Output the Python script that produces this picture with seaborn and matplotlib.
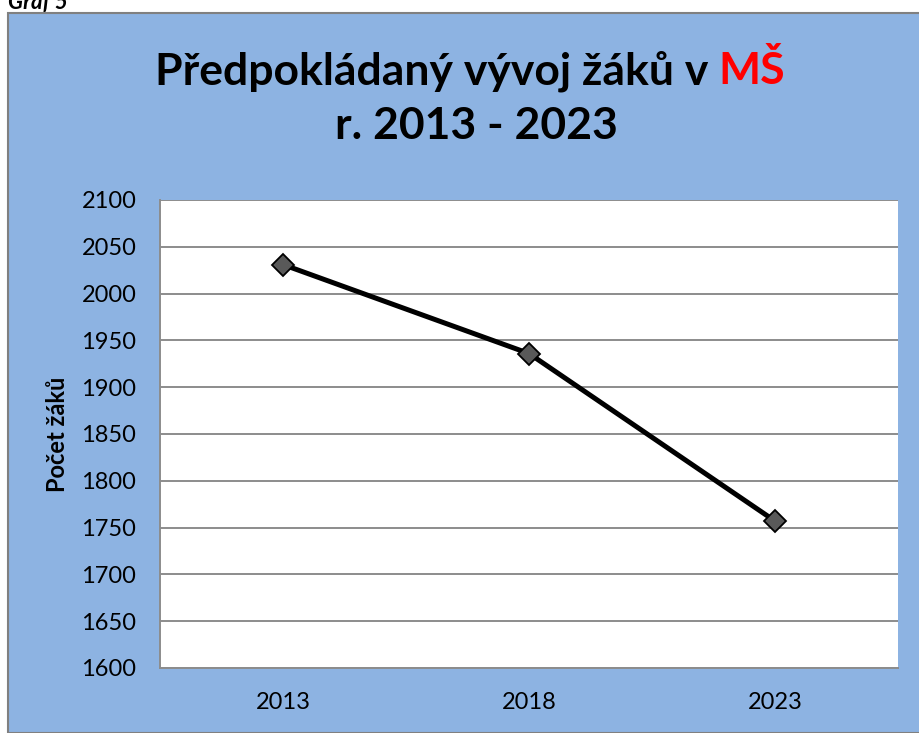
import matplotlib
matplotlib.use("Agg")
import matplotlib.pyplot as plt
import seaborn as sns
import pandas as pd
from matplotlib.patches import Rectangle

# data
roky = ["2013", "2018", "2023"]
pocet_zaku = [2031, 1936, 1757]
y_ticks = [1600, 1650, 1700, 1750, 1800, 1850, 1900, 1950, 2000, 2050, 2100]

df = pd.DataFrame({"rok": roky, "pocet": pocet_zaku})

sns.set_style("white")
plt.rcParams["font.family"] = ["Lato", "DejaVu Sans"]
plt.rcParams["text.color"] = "black"

W, H = 919, 733
fig = plt.figure(figsize=(W / 100, H / 100), dpi=100)
fig.patch.set_facecolor("white")

# modre pozadi grafu s sedym ramem
bg = Rectangle((8 / W, 0), 1, 1 - 13 / H, transform=fig.transFigure,
               facecolor="#8DB3E2", edgecolor="#808080", linewidth=1.5, zorder=-5)
fig.patches.append(bg)

ax = fig.add_axes([160 / W, 1 - 668 / H, (898 - 160) / W, (668 - 200) / H])
ax.set_facecolor("white")

sns.lineplot(data=df, x="rok", y="pocet", ax=ax, color="black", linewidth=3.6,
             marker="D", markersize=11, markerfacecolor="#595959",
             markeredgecolor="black", markeredgewidth=1.3, zorder=5)

ax.set_ylim(1600, 2100)
ax.set_xlim(-0.5, 2.5)
ax.set_yticks(y_ticks)
ax.yaxis.grid(True, color="#8C8C8C", linewidth=1.4)
ax.xaxis.grid(False)
ax.tick_params(axis="both", length=0, labelsize=17, colors="black")
ax.tick_params(axis="y", pad=17)
ax.tick_params(axis="x", pad=17)
for s in ["top", "right"]:
    ax.spines[s].set_visible(False)
for s in ["left", "bottom"]:
    ax.spines[s].set_color("#8C8C8C")
    ax.spines[s].set_linewidth(1.4)
ax.set_xlabel("")
ax.set_ylabel("Počet žáků", fontsize=17, fontweight="bold", labelpad=9, color="black")

# nadpis - prvni radek s cervenym "MŠ"
fig.canvas.draw()
r = fig.canvas.get_renderer()
t1 = fig.text(0, 1 - 84 / H, "Předpokládaný vývoj žáků v ", fontsize=32,
              fontweight="bold", ha="left", va="baseline", color="black")
t2 = fig.text(0, 1 - 84 / H, "MŠ", fontsize=32, fontweight="bold",
              color="#FF0000", ha="left", va="baseline")
w1 = t1.get_window_extent(r).width
w2 = t2.get_window_extent(r).width
x0 = 470 - (w1 + w2) / 2
t1.set_x(x0 / W)
t2.set_x((x0 + w1) / W)
fig.text(476 / W, 1 - 139 / H, "r. 2013 - 2023", fontsize=32, fontweight="bold",
         ha="center", va="baseline", color="black")

fig.text(8 / W, 1 - 9 / H, "Graf 5", fontsize=16, fontweight="bold",
         fontstyle="italic", ha="left", va="baseline", color="black")

fig.savefig("out.png", dpi=100)
